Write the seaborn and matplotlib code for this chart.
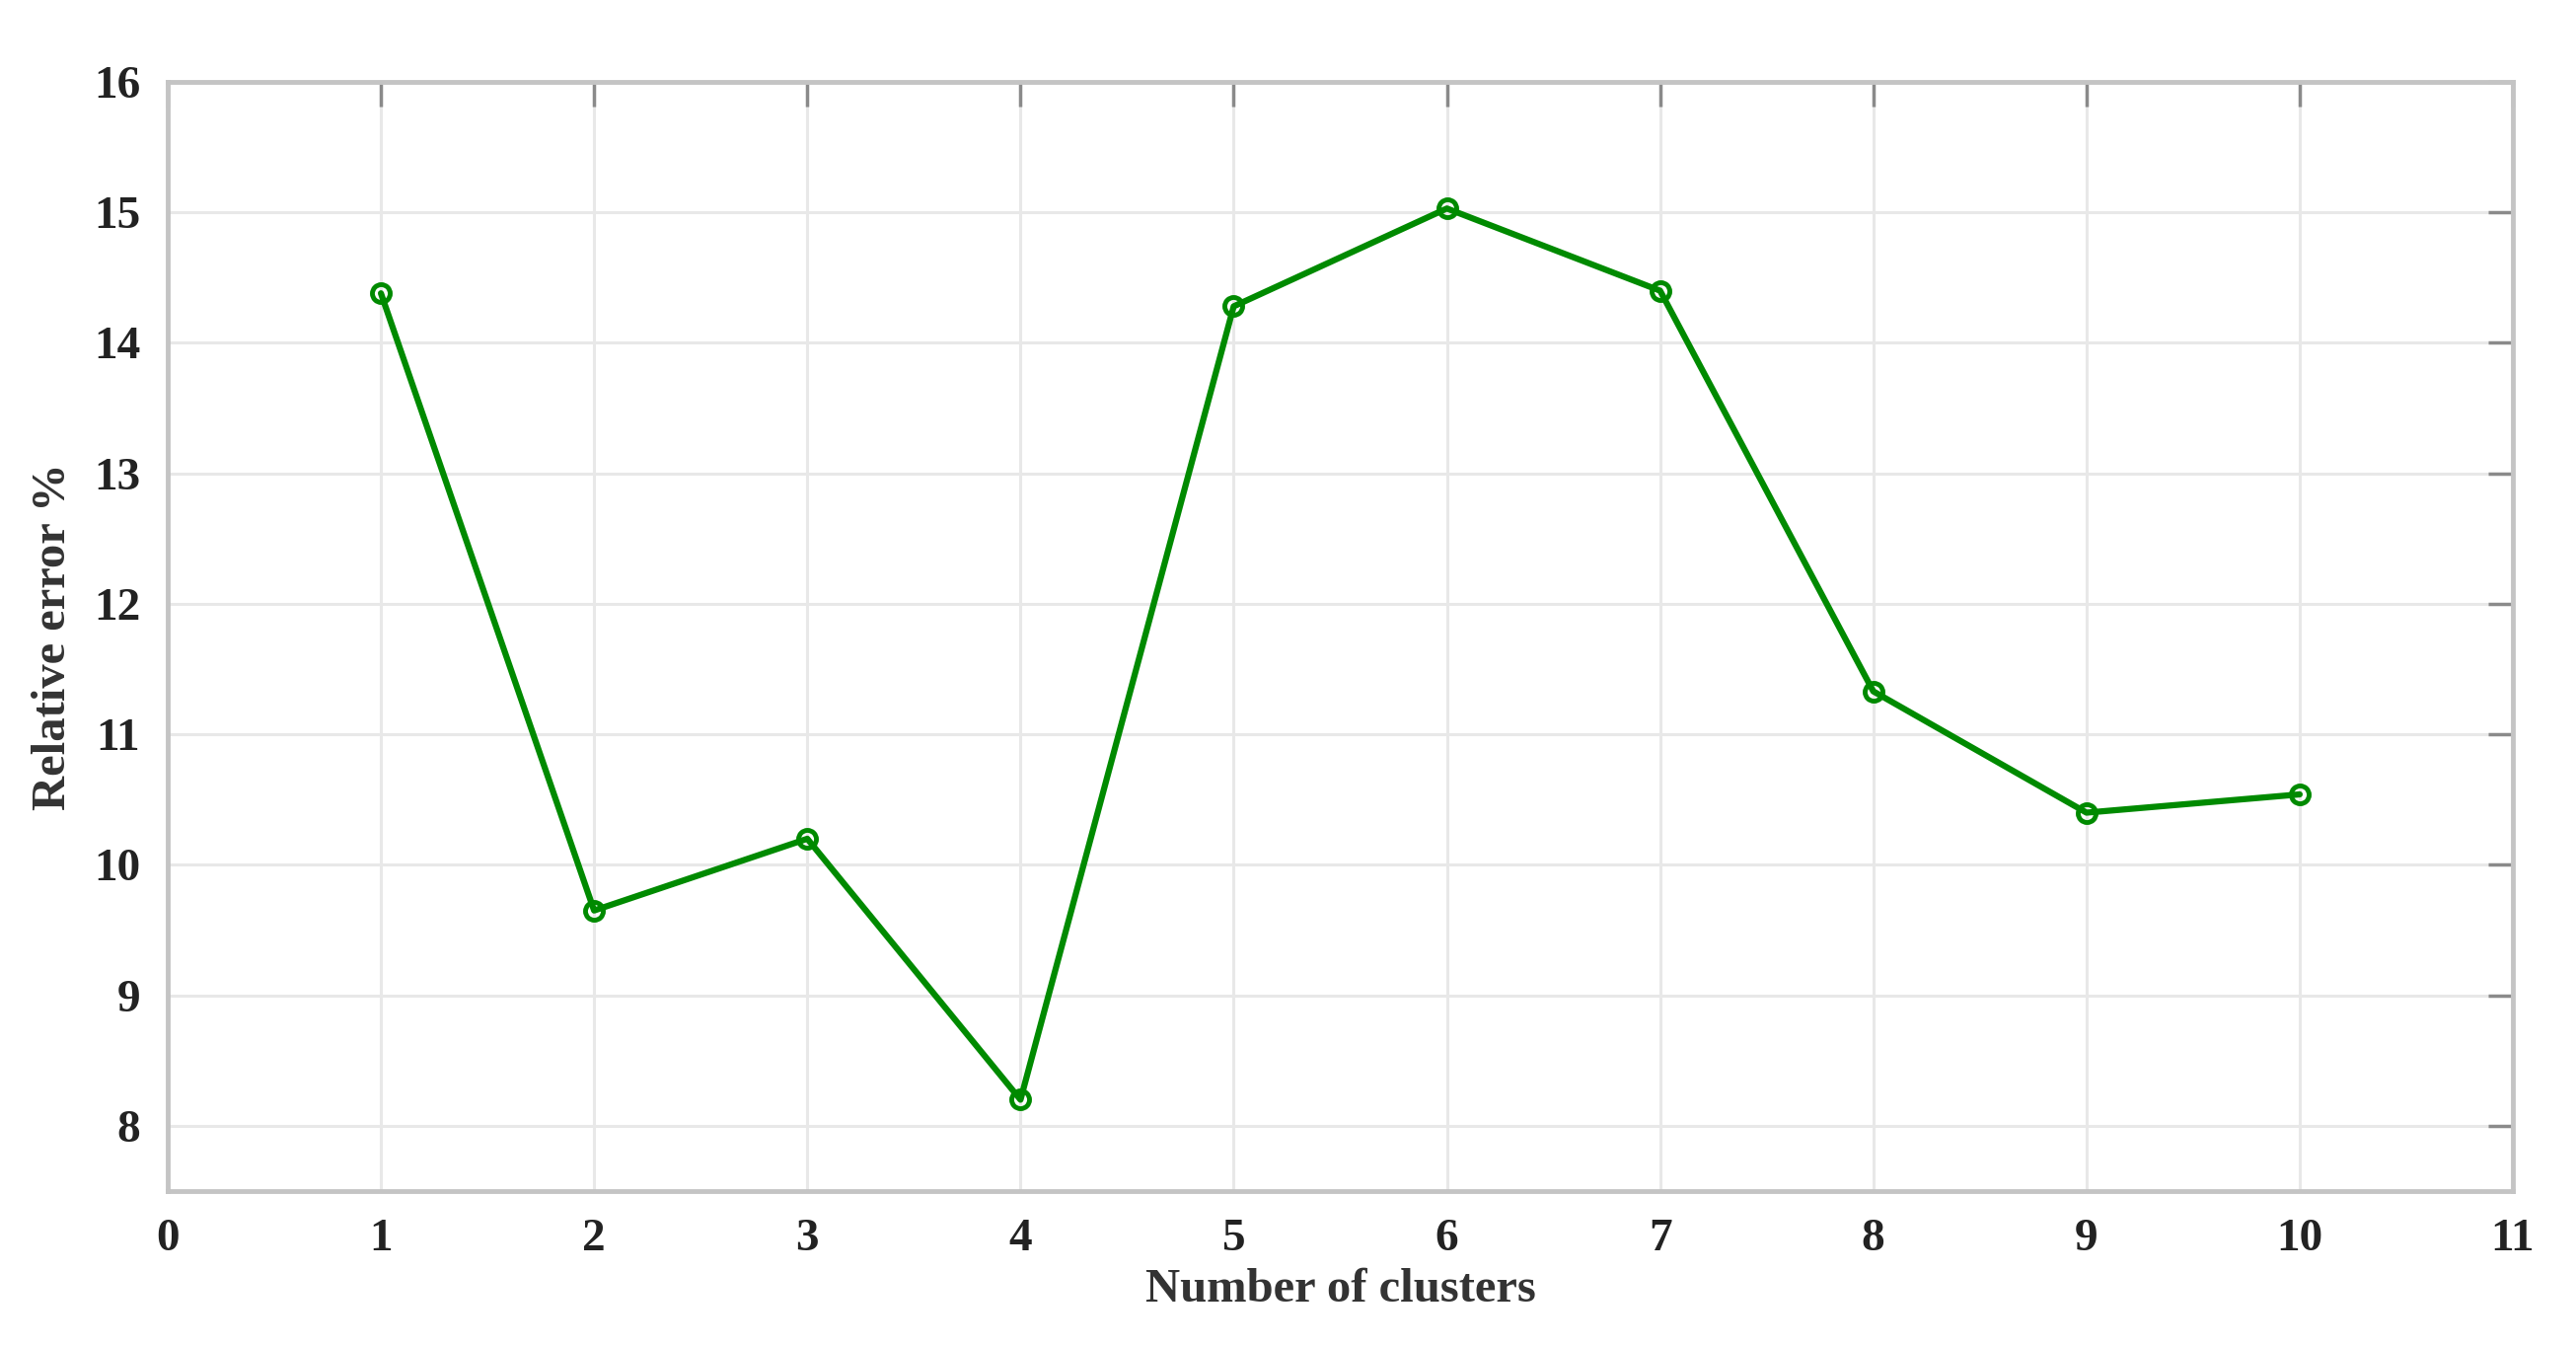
import matplotlib
matplotlib.use("Agg")
import matplotlib.pyplot as plt
import seaborn as sns
import pandas as pd

clusters = [1, 2, 3, 4, 5, 6, 7, 8, 9, 10]
rel_error = [14.38, 9.65, 10.20, 8.20, 14.28, 15.03, 14.40, 11.33, 10.40, 10.54]
x_ticks = list(range(0, 12))
y_ticks = [8, 9, 10, 11, 12, 13, 14, 15, 16]

df = pd.DataFrame({"clusters": clusters, "error": rel_error})

sns.set_style("white")
plt.rcParams['font.family'] = ['Liberation Serif', 'DejaVu Serif']
plt.rcParams['font.weight'] = 'bold'

fig = plt.figure(figsize=(26.11, 13.64), dpi=100)
ax = fig.add_axes([170 / 2611, 1 - 1207 / 1364, (2547 - 170) / 2611, (1207 - 83) / 1364])

sns.lineplot(data=df, x="clusters", y="error", ax=ax, color="#008a00",
             linewidth=4.5, marker="o", markersize=13, markerfacecolor="none",
             markeredgecolor="#008a00", markeredgewidth=3.5)

ax.set_xlim(0, 11)
ax.set_ylim(7.5, 16)
ax.set_xticks(x_ticks)
ax.set_yticks(y_ticks)
ax.grid(True, color="#e8e8e8", linewidth=2.2)
ax.set_axisbelow(True)

for s in ax.spines.values():
    s.set_color("#c4c4c4")
    s.set_linewidth(3.5)
    s.set_visible(True)

ax.tick_params(axis="both", which="both", direction="in", length=18, width=2.5,
               color="#8a8a8a", labelsize=34, labelcolor="#222222",
               top=True, right=True, pad=20)
for lbl in ax.get_xticklabels() + ax.get_yticklabels():
    lbl.set_fontweight("bold")

ax.set_xlabel("Number of clusters", fontsize=35, fontweight="bold", color="#333333", labelpad=6)
ax.set_ylabel("Relative error %", fontsize=35, fontweight="bold", color="#333333", labelpad=14)

fig.savefig("out.png", dpi=100, facecolor="white")
